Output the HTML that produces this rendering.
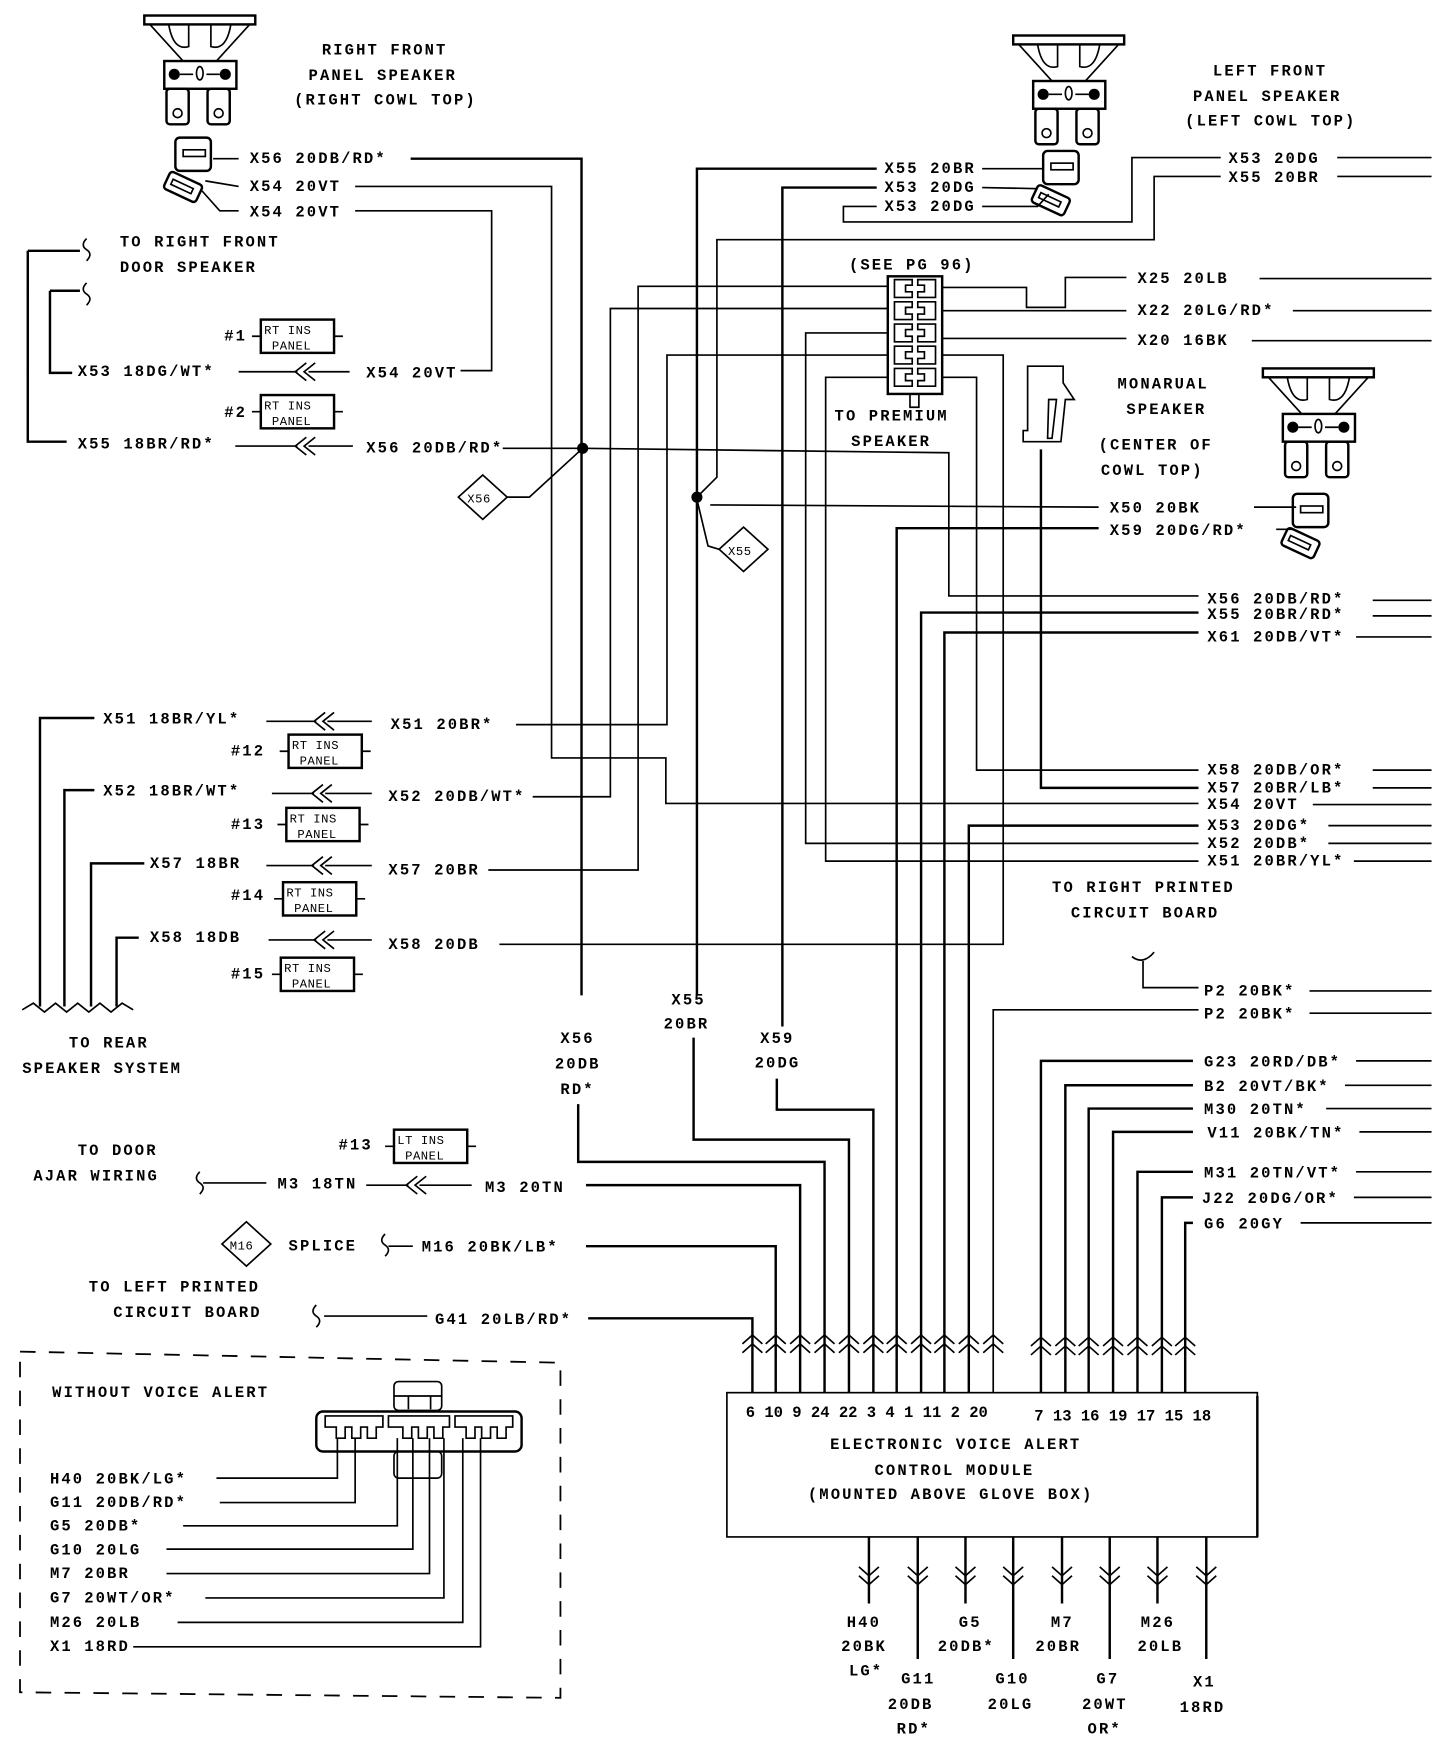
<!DOCTYPE html>
<html><head><meta charset="utf-8"><style>
html,body{margin:0;padding:0;background:#fff;}
svg{display:block;}
text{font-family:"Liberation Mono",monospace;font-size:14px;letter-spacing:1.9px;fill:#000;font-weight:bold;}
.s{font-size:11px;letter-spacing:0.5px;font-weight:normal;}
.w{fill:none;stroke:#000;stroke-width:1.5;}
.h{fill:none;stroke:#000;stroke-width:2.2;}
.d{fill:none;stroke:#000;stroke-width:1.6;stroke-dasharray:14 12;}
</style></head><body>
<svg width="1456" height="1740" viewBox="0 0 1312 1568" xmlns="http://www.w3.org/2000/svg">
<defs>
<g id="spk">
 <rect x="0" y="2" width="100" height="8" class="h"/>
 <path d="M5,10 L35,43 M95,10 L65,43 M22,10 Q26,34 40,30 L40,10 M78,10 Q74,34 60,30 L60,10" class="w"/>
 <rect x="18" y="43" width="65" height="25" class="h"/>
 <circle cx="27" cy="55" r="5"/><circle cx="73" cy="55" r="5"/>
 <path d="M32,55 L44,55 M56,55 L68,55" class="w"/>
 <ellipse cx="50" cy="54" rx="3" ry="6" class="w"/>
 <rect x="20" y="68" width="20" height="32" rx="3" class="h"/>
 <rect x="57" y="68" width="20" height="32" rx="3" class="h"/>
 <circle cx="30" cy="90" r="4" class="w"/><circle cx="67" cy="90" r="4" class="w"/>
</g>
<g id="plug">
 <rect x="0" y="0" width="32" height="30" rx="4" class="h"/>
 <rect x="7" y="11" width="20" height="6" class="w"/>
 <g transform="translate(-4,30) rotate(25)"><rect x="0" y="0" width="32" height="17" rx="3" class="h"/><rect x="5" y="6" width="20" height="5" class="w"/></g>
</g>
<g id="up"><path d="M-9,8 L0,0 L9,8 M-9,16 L0,8 L9,16" class="w"/></g>
<g id="dn"><path d="M-9,0 L0,8 L9,0 M-9,8 L0,16 L9,8" class="w"/></g>
<g id="ins"><rect x="0" y="0" width="66" height="30" class="h"/><path d="M-8,15 L0,15 M66,15 L74,15" class="w"/></g>
<g id="sq"><path d="M0,0 Q-6,6 0,10 Q6,14 0,20" class="w"/></g>
<g id="chev"><path d="M10,-8 L0,0 L10,8 M18,-8 L8,0 L18,8" class="w"/></g>
<g id="pin"><path d="M0,0 h16 v5 h-6 v6 h6 v5 h-16 Z M37,0 h-16 v5 h6 v6 h-6 v5 h16 Z" class="w"/></g>
</defs>

<use href="#spk" x="130" y="12"/>
<use href="#spk" x="913" y="30"/>
<use href="#spk" x="1138" y="330"/>
<use href="#plug" x="158" y="124"/>
<use href="#plug" x="940" y="136"/>
<use href="#plug" x="1165" y="445"/>
<path d="M192,143 L215,143 M185,163 L215,168 M182,172 L198,190 L215,190 M885,152 L940,152 M885,169 L935,170 M885,186 L935,186 L945,175 M1130,457 L1168,457 M1150,477 L1165,477" class="w"/>

<text x="290" y="49">RIGHT FRONT</text>
<text x="278" y="72">PANEL SPEAKER</text>
<text x="265" y="94">(RIGHT COWL TOP)</text>
<text x="1093" y="68">LEFT FRONT</text>
<text x="1075" y="91">PANEL SPEAKER</text>
<text x="1068" y="113">(LEFT COWL TOP)</text>

<text x="225" y="147">X56 20DB/RD*</text>
<text x="225" y="172">X54 20VT</text>
<text x="225" y="195">X54 20VT</text>
<text x="108" y="222">TO RIGHT FRONT</text>
<text x="108" y="245">DOOR SPEAKER</text>

<path d="M25,226 L72,226 M25,226 L25,398 L60,398 M45,262 L72,262 M45,262 L45,336 L65,336" class="h"/>
<use href="#sq" x="78" y="215"/><use href="#sq" x="78" y="255"/>

<text x="202" y="307">#1</text>
<use href="#ins" x="235" y="288"/>
<text class="s" x="238" y="301">RT INS</text><text class="s" x="245" y="315">PANEL</text>
<text x="70" y="339">X53 18DG/WT*</text>
<path d="M215,335 L268,335 M278,335 L315,335" class="w"/><use href="#chev" x="266" y="335"/>
<text x="330" y="340">X54 20VT</text>
<text x="202" y="376">#2</text>
<use href="#ins" x="235" y="356"/>
<text class="s" x="238" y="369">RT INS</text><text class="s" x="245" y="383">PANEL</text>
<text x="70" y="404">X55 18BR/RD*</text>
<path d="M212,402 L268,402 M278,402 L318,402" class="w"/><use href="#chev" x="266" y="402"/>
<text x="330" y="408">X56 20DB/RD*</text>

<path d="M435,428 L457,448 L435,468 L413,448 Z" class="w"/><text class="s" x="421" y="453">X56</text>
<path d="M457,448 L477,448 L525,404" class="w"/>
<path d="M670,475 L692,495 L670,515 L648,495 Z" class="w"/><text class="s" x="656" y="500">X55</text>
<path d="M648,495 L638,492 L628,450" class="w"/>
<circle cx="525" cy="404" r="5"/><circle cx="628" cy="448" r="5"/>

<path d="M370,143 L524,143 L524,897" class="h"/>
<path d="M521,995 L521,1047 L743,1047 L743,1255" class="h"/>
<path d="M320,168 L497,168 L497,683 L600,683 L600,724 L1080,724" class="w"/>
<path d="M320,190 L443,190 L443,334 L415,334" class="w"/>
<path d="M465,653 L601,653 L601,320 L800,320" class="w"/>
<path d="M480,718 L550,718 L550,278 L800,278" class="w"/>
<path d="M440,784 L575,784 L575,258 L800,258" class="w"/>
<path d="M450,851 L904,851 L904,320 L849,320" class="w"/>
<path d="M800,300 L726,300 L726,760 L1080,760" class="w"/>
<path d="M800,340 L744,340 L744,776 L1080,776" class="w"/>
<path d="M849,340 L880,340 L880,694 L1080,694" class="w"/>
<path d="M849,259 L925,259 L925,277 L960,277 L960,250 L1015,250" class="w"/>
<path d="M849,280 L1015,280 M849,305 L1015,305" class="w"/>
<path d="M453,404 L525,404 L855,408 L855,537 L1080,537" class="w"/>
<path d="M790,152 L628,152 L628,897" class="h"/>
<path d="M625,935 L625,1027 L765,1027 L765,1255" class="h"/>
<path d="M790,169 L705,169 L705,925" class="h"/>
<path d="M700,972 L700,1000 L787,1000 L787,1255" class="h"/>
<path d="M790,186 L760,186 L760,200 L1020,200 L1020,142 L1100,142" class="w"/>
<path d="M1100,159 L1040,159 L1040,216 L646,216 L646,430 L628,448" class="w"/>
<path d="M640,455 L990,457" class="w"/>
<path d="M808,1255 L808,476 L990,476" class="h"/>
<path d="M830,1255 L830,552 L1080,552" class="h"/>
<path d="M851,1255 L851,570 L1080,570" class="h"/>
<path d="M873,1255 L873,744 L1080,744" class="h"/>
<path d="M895,1255 L895,910 L1080,910" class="w"/>
<path d="M938,405 L938,710 L1080,710" class="h"/>
<path d="M1020,862 Q1030,870 1040,858 M1030,866 L1030,890 L1080,890" class="w"/>
<path d="M938,1255 L938,956 L1075,956 M960,1255 L960,978 L1075,978 M981,1255 L981,999 L1075,999 M1003,1255 L1003,1020 L1075,1020 M1025,1255 L1025,1056 L1075,1056 M1047,1255 L1047,1079 L1075,1079 M1068,1255 L1068,1102 L1075,1102" class="h"/>

<text x="765" y="243">(SEE PG 96)</text>
<rect x="800" y="249" width="49" height="106" class="h"/>
<use href="#pin" x="806" y="252"/><use href="#pin" x="806" y="272"/><use href="#pin" x="806" y="292"/><use href="#pin" x="806" y="312"/><use href="#pin" x="806" y="332"/>
<path d="M820,355 v12 h8 v-12" class="w"/>
<text x="752" y="379">TO PREMIUM</text>
<text x="767" y="402">SPEAKER</text>

<text x="797" y="156">X55 20BR</text>
<text x="797" y="173">X53 20DG</text>
<text x="797" y="190">X53 20DG</text>
<text x="1107" y="147">X53 20DG</text>
<text x="1107" y="164">X55 20BR</text>
<path d="M1205,142 L1290,142 M1205,159 L1290,159" class="w"/>
<text x="1025" y="255">X25 20LB</text>
<text x="1025" y="284">X22 20LG/RD*</text>
<text x="1025" y="311">X20 16BK</text>
<path d="M1135,251 L1290,251 M1165,280 L1290,280 M1128,307 L1290,307" class="w"/>

<path d="M926,330 L958,330 L958,345 L968,360 L960,360 L956,398 L922,398 L922,388 L926,388 Z M945,360 L952,360 L948,395 L944,395 Z" class="w"/>
<text x="1007" y="350">MONARUAL</text>
<text x="1015" y="373">SPEAKER</text>
<text x="990" y="405">(CENTER OF</text>
<text x="992" y="428">COWL TOP)</text>
<text x="1000" y="462">X50 20BK</text>
<text x="1000" y="482">X59 20DG/RD*</text>

<text x="1088" y="544">X56 20DB/RD*</text>
<text x="1088" y="558">X55 20BR/RD*</text>
<text x="1088" y="578">X61 20DB/VT*</text>
<path d="M1237,541 L1290,541 M1237,555 L1290,555 M1222,574 L1290,574" class="w"/>
<text x="1088" y="698">X58 20DB/OR*</text>
<text x="1088" y="714">X57 20BR/LB*</text>
<text x="1088" y="729">X54 20VT</text>
<text x="1088" y="748">X53 20DG*</text>
<text x="1088" y="764">X52 20DB*</text>
<text x="1088" y="780">X51 20BR/YL*</text>
<path d="M1237,694 L1290,694 M1237,710 L1290,710 M1183,725 L1290,725 M1197,744 L1290,744 M1197,760 L1290,760 M1220,776 L1290,776" class="w"/>
<text x="948" y="804">TO RIGHT PRINTED</text>
<text x="965" y="827">CIRCUIT BOARD</text>
<text x="1085" y="897">P2 20BK*</text>
<text x="1085" y="918">P2 20BK*</text>
<path d="M1180,893 L1290,893 M1180,913 L1290,913" class="w"/>

<text x="93" y="652">X51 18BR/YL*</text>
<path d="M240,650 L285,650 M295,650 L335,650" class="w"/><use href="#chev" x="283" y="650"/>
<text x="352" y="657">X51 20BR*</text>
<text x="208" y="681">#12</text>
<use href="#ins" x="260" y="662"/><text class="s" x="263" y="675">RT INS</text><text class="s" x="270" y="689">PANEL</text>
<text x="93" y="717">X52 18BR/WT*</text>
<path d="M245,715 L283,715 M293,715 L335,715" class="w"/><use href="#chev" x="281" y="715"/>
<text x="350" y="722">X52 20DB/WT*</text>
<text x="208" y="747">#13</text>
<use href="#ins" x="258" y="728"/><text class="s" x="261" y="741">RT INS</text><text class="s" x="268" y="755">PANEL</text>
<text x="135" y="782">X57 18BR</text>
<path d="M240,780 L283,780 M293,780 L335,780" class="w"/><use href="#chev" x="281" y="780"/>
<text x="350" y="788">X57 20BR</text>
<text x="208" y="811">#14</text>
<use href="#ins" x="255" y="795"/><text class="s" x="258" y="808">RT INS</text><text class="s" x="265" y="822">PANEL</text>
<text x="135" y="849">X58 18DB</text>
<path d="M242,847 L285,847 M295,847 L335,847" class="w"/><use href="#chev" x="283" y="847"/>
<text x="350" y="855">X58 20DB</text>
<text x="208" y="882">#15</text>
<use href="#ins" x="253" y="863"/><text class="s" x="256" y="876">RT INS</text><text class="s" x="263" y="890">PANEL</text>
<path d="M36,907 L36,647 L85,647 M58,907 L58,712 L85,712 M82,907 L82,778 L130,778 M105,907 L105,845 L125,845" class="h"/>
<path d="M20,910 L30,904 L40,912 L50,904 L60,912 L70,904 L80,912 L90,904 L100,912 L110,904 L120,910" class="w"/>
<text x="62" y="944">TO REAR</text>
<text x="20" y="967">SPEAKER SYSTEM</text>

<text x="605" y="905">X55</text><text x="598" y="927">20BR</text>
<text x="505" y="940">X56</text><text x="500" y="963">20DB</text><text x="505" y="986">RD*</text>
<text x="685" y="940">X59</text><text x="680" y="962">20DG</text>

<text x="1085" y="961">G23 20RD/DB*</text>
<text x="1085" y="983">B2 20VT/BK*</text>
<text x="1085" y="1004">M30 20TN*</text>
<text x="1088" y="1025">V11 20BK/TN*</text>
<text x="1085" y="1061">M31 20TN/VT*</text>
<text x="1083" y="1084">J22 20DG/OR*</text>
<text x="1085" y="1107">G6 20GY</text>
<path d="M1222,956 L1290,956 M1212,978 L1290,978 M1195,999 L1290,999 M1225,1020 L1290,1020 M1222,1056 L1290,1056 M1220,1079 L1290,1079 M1172,1102 L1290,1102" class="w"/>

<text x="70" y="1041">TO DOOR</text>
<text x="30" y="1064">AJAR WIRING</text>
<text x="305" y="1036">#13</text>
<use href="#ins" x="355" y="1018"/><text class="s" x="358" y="1031">LT INS</text><text class="s" x="365" y="1045">PANEL</text>
<use href="#sq" x="180" y="1056"/>
<path d="M183,1066 L240,1066" class="w"/>
<text x="250" y="1071">M3 18TN</text>
<path d="M330,1068 L368,1068 M378,1068 L425,1068" class="w"/><use href="#chev" x="366" y="1068"/>
<text x="437" y="1074">M3 20TN</text>
<path d="M528,1068 L721,1068 L721,1255" class="h"/>
<path d="M222,1101 L244,1121 L222,1141 L200,1121 Z" class="w"/><text class="s" x="207" y="1126">M16</text>
<text x="260" y="1127">SPLICE</text>
<use href="#sq" x="347" y="1112"/>
<path d="M350,1123 L372,1123" class="w"/>
<text x="380" y="1128">M16 20BK/LB*</text>
<path d="M528,1123 L699,1123 L699,1255" class="h"/>
<text x="80" y="1164">TO LEFT PRINTED</text>
<text x="102" y="1187">CIRCUIT BOARD</text>
<use href="#sq" x="285" y="1176"/>
<path d="M292,1186 L385,1186" class="w"/>
<text x="392" y="1193">G41 20LB/RD*</text>
<path d="M530,1188 L678,1188 L678,1255" class="h"/>

<use href="#up" x="678" y="1203"/><use href="#up" x="699" y="1203"/><use href="#up" x="721" y="1203"/><use href="#up" x="743" y="1203"/><use href="#up" x="765" y="1203"/><use href="#up" x="787" y="1203"/><use href="#up" x="808" y="1203"/><use href="#up" x="830" y="1203"/><use href="#up" x="851" y="1203"/><use href="#up" x="873" y="1203"/><use href="#up" x="895" y="1203"/>
<use href="#up" x="938" y="1205"/><use href="#up" x="960" y="1205"/><use href="#up" x="981" y="1205"/><use href="#up" x="1003" y="1205"/><use href="#up" x="1025" y="1205"/><use href="#up" x="1047" y="1205"/><use href="#up" x="1068" y="1205"/>

<rect x="655" y="1255" width="478" height="130" class="w"/>
<path d="M1133,1258 L1133,1385" class="h"/>
<text x="672" y="1277" style="letter-spacing:0">6 10 9 24 22 3 4 1 11 2 20</text>
<text x="932" y="1280" style="letter-spacing:0">7 13 16 19 17 15 18</text>
<text x="748" y="1306">ELECTRONIC VOICE ALERT</text>
<text x="788" y="1329">CONTROL MODULE</text>
<text x="728" y="1351">(MOUNTED ABOVE GLOVE BOX)</text>

<path d="M783,1385 L783,1445 M827,1385 L827,1495 M870,1385 L870,1445 M913,1385 L913,1495 M957,1385 L957,1445 M1000,1385 L1000,1495 M1043,1385 L1043,1445 M1087,1385 L1087,1495" class="h"/>
<use href="#dn" x="783" y="1412"/><use href="#dn" x="827" y="1412"/><use href="#dn" x="870" y="1412"/><use href="#dn" x="913" y="1412"/><use href="#dn" x="957" y="1412"/><use href="#dn" x="1000" y="1412"/><use href="#dn" x="1043" y="1412"/><use href="#dn" x="1087" y="1412"/>
<text x="763" y="1466">H40</text><text x="758" y="1488">20BK</text><text x="765" y="1510">LG*</text>
<text x="812" y="1517">G11</text><text x="800" y="1540">20DB</text><text x="808" y="1562">RD*</text>
<text x="864" y="1466">G5</text><text x="845" y="1488">20DB*</text>
<text x="897" y="1517">G10</text><text x="890" y="1540">20LG</text>
<text x="947" y="1466">M7</text><text x="933" y="1488">20BR</text>
<text x="988" y="1517">G7</text><text x="975" y="1540">20WT</text><text x="980" y="1562">OR*</text>
<text x="1028" y="1466">M26</text><text x="1025" y="1488">20LB</text>
<text x="1075" y="1520">X1</text><text x="1063" y="1543">18RD</text>

<path d="M18,1218 L505,1228 L505,1530 L18,1525 Z" class="d"/>
<text x="47" y="1259">WITHOUT VOICE ALERT</text>
<rect x="355" y="1245" width="43" height="26" rx="4" class="w"/>
<path d="M355,1258 L398,1258 M368,1258 L368,1270 M388,1258 L388,1270" class="w"/>
<rect x="285" y="1272" width="185" height="36" rx="6" class="h"/>
<rect x="355" y="1308" width="43" height="24" rx="4" class="w"/>
<path d="M293,1276 h52 v10 h-6 v10 h-8 v-10 h-6 v10 h-8 v-10 h-6 v10 h-8 v-10 h-10 Z M350,1276 h55 v10 h-6 v10 h-8 v-10 h-6 v10 h-8 v-10 h-6 v10 h-8 v-10 h-13 Z M410,1276 h52 v10 h-6 v10 h-8 v-10 h-6 v10 h-8 v-10 h-6 v10 h-8 v-10 h-10 Z" class="w"/>
<text x="45" y="1337">H40 20BK/LG*</text>
<text x="45" y="1358">G11 20DB/RD*</text>
<text x="45" y="1379">G5 20DB*</text>
<text x="45" y="1401">G10 20LG</text>
<text x="45" y="1422">M7 20BR</text>
<text x="45" y="1444">G7 20WT/OR*</text>
<text x="45" y="1466">M26 20LB</text>
<text x="45" y="1488">X1 18RD</text>
<path d="M195,1332 L304,1332 L304,1296 M198,1354 L320,1354 L320,1296 M165,1375 L358,1375 L358,1296 M150,1396 L372,1396 L372,1296 M150,1418 L387,1418 L387,1296 M185,1440 L400,1440 L400,1296 M160,1462 L417,1462 L417,1296 M120,1484 L433,1484 L433,1296" class="w"/>
</svg>
</body></html>
